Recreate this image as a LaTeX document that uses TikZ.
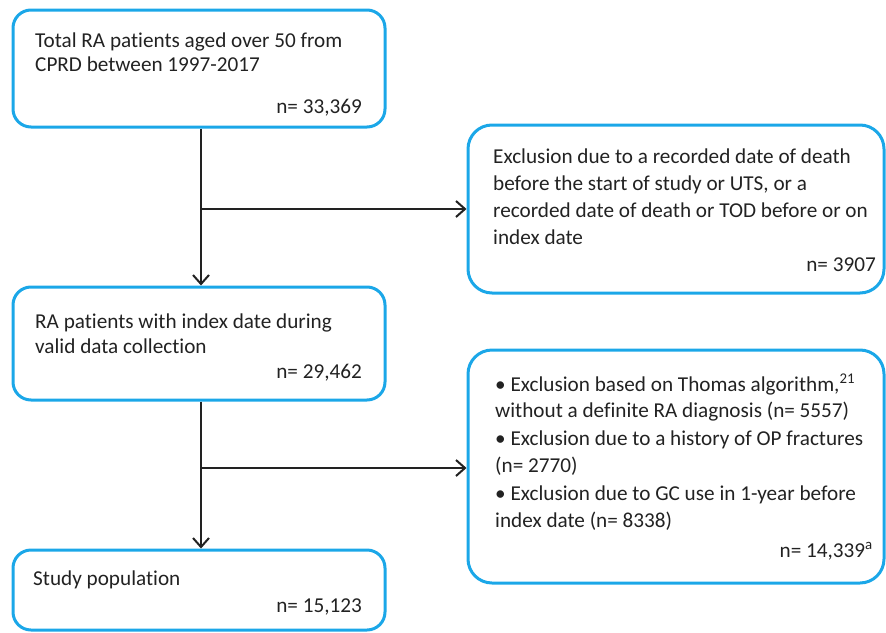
\documentclass[tikz,border=0pt]{standalone}
\usepackage{fontspec}
\setmainfont{Carlito}[Ligatures={NoCommon,NoDiscretionary}]
\usetikzlibrary{arrows.meta}
\definecolor{boxblue}{RGB}{27,167,232}
\definecolor{ink}{RGB}{34,34,34}
\begin{document}
\begin{tikzpicture}[x=1pt,y=-1pt,
  box/.style={draw=boxblue,line width=3pt,rounded corners=18pt,inner sep=0pt},
  rbox/.style={box,rounded corners=24pt},
  txt/.style={anchor=base west,inner sep=0pt,text=ink,font=\fontsize{21.2}{27}\selectfont},
  num/.style={anchor=base east,inner sep=0pt,text=ink,font=\fontsize{21.2}{27}\selectfont},
  arr/.style={draw=ink,line width=2pt,-{Straight Barb[length=9pt,width=16pt,line width=2pt]}},
  ln/.style={draw=ink,line width=2pt}]
\useasboundingbox (0,0) rectangle (886,632);
% boxes
\node[box,minimum width=372pt,minimum height=117pt] (b1) at (199,68.5) {};
\node[rbox,minimum width=416pt,minimum height=168pt] (b2) at (676,209) {};
\node[box,minimum width=372pt,minimum height=113pt] (b3) at (199,343.5) {};
\node[rbox,minimum width=416pt,minimum height=233pt] (b4) at (676,466.5) {};
\node[box,minimum width=372pt,minimum height=80pt] (b5) at (199,590) {};
% box 1 text
\node[txt] (t1a) at (35,47) {Total RA patients aged over 50 from};
\node[txt] (t1b) at (35,71) {CPRD between 1997-2017};
\node[num] (t1n) at (362,113) {n= 33,369};
% box 2 text
\node[txt] (t2a) at (493,163) {Exclusion due to a recorded date of death};
\node[txt] (t2b) at (493,190) {before the start of study or UTS, or a};
\node[txt] (t2c) at (493,217) {recorded date of death or TOD before or on};
\node[txt] (t2d) at (493,244) {index date};
\node[num] (t2n) at (876,271) {n= 3907};
% box 3 text
\node[txt] (t3a) at (35,328) {RA patients with index date during};
\node[txt] (t3b) at (35,353) {valid data collection};
\node[num] (t3n) at (362,378) {n= 29,462};
% box 4 text
\node[txt] (t4a) at (495,391) {\textbullet\ Exclusion based on Thomas algorithm,\textsuperscript{21}};
\node[txt] (t4b) at (495,417) {without a definite RA diagnosis (n= 5557)};
\node[txt] (t4c) at (495,445) {\textbullet\ Exclusion due to a history of OP fractures};
\node[txt] (t4d) at (495,472) {(n= 2770)};
\node[txt] (t4e) at (495,500) {\textbullet\ Exclusion due to GC use in 1-year before};
\node[txt] (t4f) at (495,527) {index date (n= 8338)};
\node[num] (t4n) at (873,557) {n= 14,339\textsuperscript{a}};
% box 5 text
\node[txt] (t5a) at (33,585) {Study population};
\node[num] (t5n) at (362,612) {n= 15,123};
% connectors
\coordinate (j1) at (201,209);
\coordinate (j2) at (201,468);
\draw[arr] (b1.south -| j1) -- (b3.north -| j1);
\draw[arr] (j1) -- (b2.west |- j1);
\draw[arr] (b3.south -| j2) -- (b5.north -| j2);
\draw[arr] (j2) -- (b4.west |- j2);
\end{tikzpicture}
\end{document}
